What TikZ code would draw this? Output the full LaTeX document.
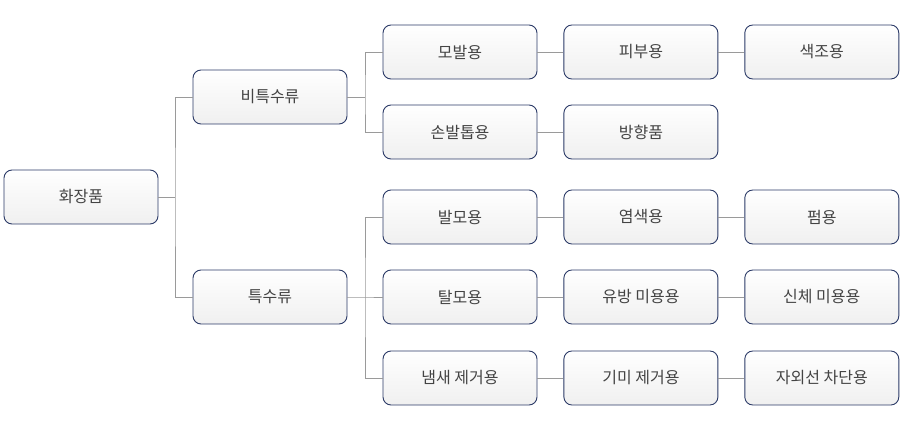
\documentclass[tikz,border=0pt]{standalone}
\usepackage{fontspec}
\setmainfont{Noto Sans CJK KR}
\usetikzlibrary{positioning}
\definecolor{navy}{HTML}{2B3A67}
\definecolor{linegray}{HTML}{9A9A9A}
\definecolor{txtgray}{HTML}{444444}
\tikzset{box/.style = {
  rectangle,
  draw=navy, line width=0.9pt, rounded corners=8pt,
  top color=white, bottom color=black!6,
  minimum width=154pt, minimum height=54pt,
  text=txtgray, font=\fontsize{16}{18}\selectfont,
  text centered, inner sep=0pt
  }}
\tikzset{link/.style = {draw=linegray, line width=0.9pt}}

\begin{document}
\begin{tikzpicture}[x=1pt, y=-1pt]
\useasboundingbox (0,0) rectangle (900,430);

% NODES
\node (root) [box] at (81,197) {화장품};
\node (gen) [box] at (270,97) {비특수류};
\node (spec) [box] at (270,297) {특수류};

\node (hair) [box] at (460,52) {모발용};
\node (skin) [box, right=26pt of hair] {피부용};
\node (color) [box, right=26pt of skin] {색조용};
\node (nail) [box] at (460,132) {손발톱용};
\node (scent) [box, right=26pt of nail] {방향품};

\node (grow) [box] at (460,217) {발모용};
\node (dye) [box, right=26pt of grow] {염색용};
\node (perm) [box, right=26pt of dye] {펌용};
\node (remove) [box] at (460,297) {탈모용};
\node (breast) [box, right=26pt of remove] {유방 미용용};
\node (body) [box, right=26pt of breast] {신체 미용용};
\node (odor) [box] at (460,378) {냄새 제거용};
\node (spot) [box, right=26pt of odor] {기미 제거용};
\node (uv) [box, right=26pt of spot] {자외선 차단용};

% links
\draw [link] (root.east) -- (175,197);
\draw [link] (gen.west) -| (175,197) |- (spec.west);
\draw [link] (gen.east) -- (365,97);
\draw [link] (hair.west) -| (365,97) |- (nail.west);
\draw [link] (spec.east) -- (365,297) -- (remove.west);
\draw [link] (grow.west) -| (365,297) |- (odor.west);

\foreach \a/\b in {hair/skin, skin/color, nail/scent, grow/dye, dye/perm,
  remove/breast, breast/body, odor/spot, spot/uv}
  \draw [link] (\a) -- (\b);
\end{tikzpicture}
\end{document}
